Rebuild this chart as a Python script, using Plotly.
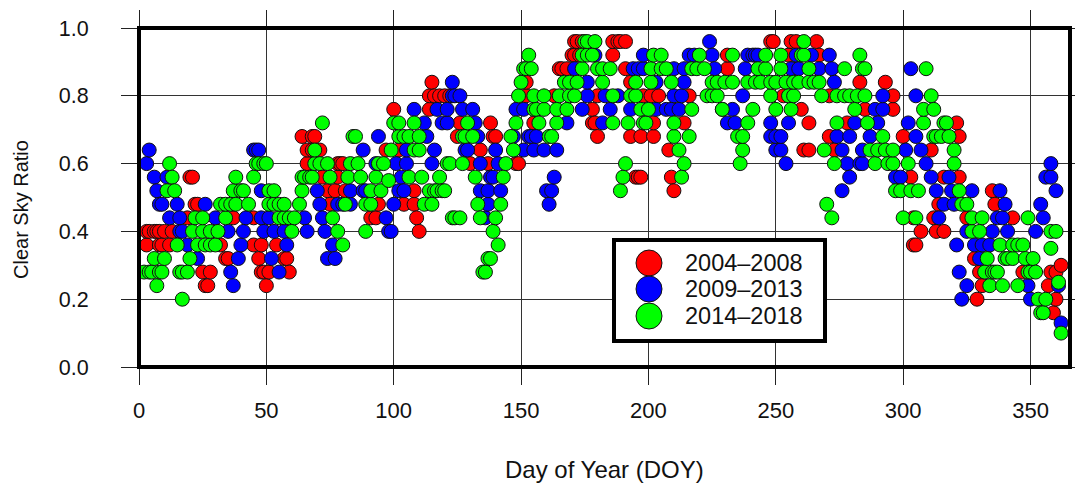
import plotly.graph_objects as go

# Values: day-of-year lists for each ratio level and period
red_levels = [0.96,0.92,0.88,0.84,0.80,0.76,0.72,0.68,0.64,0.60,0.56,0.52,0.48,0.44,0.40,0.36,0.32,0.30,0.28,0.24,0.20,0.16]
red_days = [
 [171,172,174,186,188,189,191,248,249,256,258,266],
 [170,171,173,186,231,255,267],
 [165,166,168,191,231,257],
 [115,152,193,283,293],
 [114,116,118,120,122,152,163,180,198,201,204,216,253,271,296],
 [100,114,178,229,260,285,296],
 [126,138,155,178,179,202,214,263,278,321],
 [64,68,69,125,139,140,180,193,197,202,271,300,322],
 [66,68,71,97,102,134,208,261,263,273,311],
 [66,78,79,80,130,137,148,149],
 [20,21,72,78,195,196,197,209,303,316,322],
 [74,77,81,108,210,335],
 [22,23,75,94,104,108,314,336],
 [19,37,45,91,93,109,304,312,325,343],
 [3,4,6,7,8,10,13,110,307,313,316],
 [3,8,9,12,32,45,48,54,304,305],
 [34,35,47,57,58,328],
 [362],
 [25,28,48,49,51,59,330,347,358,360],
 [26,27,50,331,357],
 [329,360],
 [359],
]

blue_levels = [0.96,0.92,0.88,0.84,0.80,0.76,0.72,0.68,0.64,0.60,0.56,0.52,0.48,0.44,0.40,0.36,0.32,0.28,0.24,0.20,0.13]
blue_days = [
 [224],
 [179,198,216,218,225,239,241,242,243,258,264,271],
 [171,194,196,198,210,214,226,238,256,259,267,272,303],
 [123,176,203,214,273],
 [123,124,126,176,183,188,210,213,237,292,305],
 [108,117,121,127,131,148,151,174,185,193,203,207,209,212,233,289,292],
 [112,119,121,132,168,182,231,234,248,255,281,290,302],
 [94,113,133,147,153,154,156,248,250,252,274,279,287,305],
 [4,45,46,47,88,105,116,128,129,140,151,155,159,164,250,252,276,284,301,307],
 [3,93,101,105,115,134,141,254,278,283,284,309,358],
 [6,11,103,138,139,163,279,297,299,311,318,356,358],
 [7,48,70,83,88,89,102,104,134,137,142,160,162,276,313,319,327,338,360],
 [8,9,15,26,71,78,80,83,100,137,161,316,320,340,354],
 [12,16,30,42,48,51,65,72,97,136,314,337,339,355],
 [16,17,35,41,49,53,57,66,73,98,99,325,335,341,352],
 [19,40,58,76,321,328,331,334],
 [23,39,52,74,77,330],
 [36,55,322],
 [37,325,349,361],
 [323,350],
 [362],
]

green_levels = [0.96,0.92,0.88,0.84,0.80,0.76,0.72,0.68,0.64,0.60,0.56,0.55,0.52,0.48,0.44,0.40,0.36,0.35,0.32,0.28,0.25,0.24,0.20,0.16,0.10]
green_days = [
 [175,176,179,261],
 [153,174,176,178,202,205,220,233,246,252,260,261,283],
 [151,152,154,174,180,182,185,201,205,207,217,219,222,243,246,252,263,277,284,285,309],
 [150,167,169,172,182,195,201,209,225,227,230,233,239,242,244,248,250,254,257,259,263,265,267],
 [149,155,159,165,169,171,186,193,195,223,225,227,248,255,257,268,274,277,279,282,285,311],
 [155,156,159,164,168,197,200,217,229,241,250,256,281,308,312],
 [72,100,102,108,129,148,157,164,186,192,198,199,210,239,274,286,308,316,317],
 [84,85,102,104,106,110,127,128,131,146,161,162,210,216,235,237,292,312,313,315,318],
 [69,99,108,110,147,212,237,269,287,290,293,296,320],
 [12,46,47,49,50,69,71,74,83,86,94,96,121,122,127,144,191,214,236,273,289,294,296,302,320],
 [13,38,45,64,65,67,68,75,82,87,93,106,111,118,132,143,190,213],
 [98],
 [11,14,37,40,41,51,53,64,91,95,114,116,117,119,120,189,297,299,303,306,322],
 [32,34,36,38,43,51,53,55,57,63,81,89,91,112,115,133,142,270,323,325],
 [22,25,34,55,57,59,61,76,123,124,126,134,140,272,300,305,327,331,349],
 [21,25,28,31,60,78,89,139,327,330,358,360],
 [15,23,26,28,30,80,141,338,343,345,347],
 [358],
 [6,10,20,137,138,333,340,341,343,348,351],
 [2,4,5,8,9,16,17,19,135,136,332,335,336,337,349,350,352],
 [361],
 [7,334,339,345],
 [17,353,356],
 [354,355],
 [362],
]

x_ticks = [0, 50, 100, 150, 200, 250, 300, 350]
y_ticks = [0.0, 0.2, 0.4, 0.6, 0.8, 1.0]
periods = ["2004–2008", "2009–2013", "2014–2018"]
colours = ["#ff0000", "#0000ff", "#00ff00"]
FONT = "Liberation Sans"
W, H = 1083, 485
PAGE = 8  # default page margin around the figure
L, R, T, B = 139, 1070, 28, 367


def sorted_points(levels, days):
    pts = sorted((d, v) for v, ds in zip(levels, days) for d in ds)
    return [p[0] for p in pts], [p[1] for p in pts]


fig = go.Figure()
for name, col, levels, days in zip(periods, colours,
                                   [red_levels, blue_levels, green_levels],
                                   [red_days, blue_days, green_days]):
    xs, ys = sorted_points(levels, days)
    fig.add_trace(go.Scatter(x=xs, y=ys, mode="markers", name=name, showlegend=False,
                             marker=dict(size=14, color=col, line=dict(color="#111111", width=1))))

axis_common = dict(showline=False, mirror="allticks",
                   ticks="outside", ticklen=17, tickwidth=1, tickcolor="#222222",
                   showgrid=True, gridcolor="#333333", gridwidth=1, zeroline=False,
                   automargin=False)

fig.update_xaxes(range=[0, 365.5], tickvals=x_ticks, ticktext=[str(v) for v in x_ticks],
                 ticklabelstandoff=7, tickfont=dict(family=FONT, size=22, color="#111111"),
                 **axis_common)
fig.update_yaxes(range=[0, 1], tickvals=y_ticks, ticktext=[f"{v:.1f}" for v in y_ticks],
                 ticklabelstandoff=28, tickfont=dict(family=FONT, size=21.5, color="#111111"),
                 **axis_common)


def px(x):
    return (x - L) / (R - L)


def py(y):
    return (B - y) / (B - T)


shapes = [
    dict(type="rect", xref="paper", yref="paper", layer="above",
         x0=0, x1=1, y0=0, y1=1, fillcolor="rgba(0,0,0,0)", line=dict(color="black", width=4)),
    dict(type="rect", xref="paper", yref="paper", layer="above",
         x0=px(614), x1=px(825), y0=py(341), y1=py(240),
         fillcolor="white", line=dict(color="black", width=4)),
]
annotations = [
    dict(xref="paper", yref="paper", x=px(604), y=py(469), text="Day of Year (DOY)",
         showarrow=False, xanchor="center", yanchor="middle",
         font=dict(family=FONT, size=24, color="#111111")),
    dict(xref="paper", yref="paper", x=px(21), y=py(210), text="Clear Sky Ratio",
         showarrow=False, textangle=-90, xanchor="center", yanchor="middle",
         font=dict(family=FONT, size=20, color="#111111")),
]
for col, name, cy in zip(colours, periods, [263, 289, 316]):
    shapes.append(dict(type="circle", xref="paper", yref="paper", layer="above",
                       x0=px(636), x1=px(662), y0=py(cy + 13), y1=py(cy - 13),
                       fillcolor=col, line=dict(color="#111111", width=1)))
    annotations.append(dict(xref="paper", yref="paper", x=px(683), y=py(cy), text=name,
                            showarrow=False, xanchor="left", yanchor="middle",
                            font=dict(family=FONT, size=23.5, color="#111111")))

fig.update_layout(width=W - PAGE, height=H - PAGE, autosize=False,
                  margin=dict(l=L - PAGE, r=W - R, t=T - PAGE, b=H - B, pad=0),
                  plot_bgcolor="white", paper_bgcolor="white",
                  shapes=shapes, annotations=annotations, showlegend=False)
fig.write_html("out.html", config=dict(displayModeBar=False))
